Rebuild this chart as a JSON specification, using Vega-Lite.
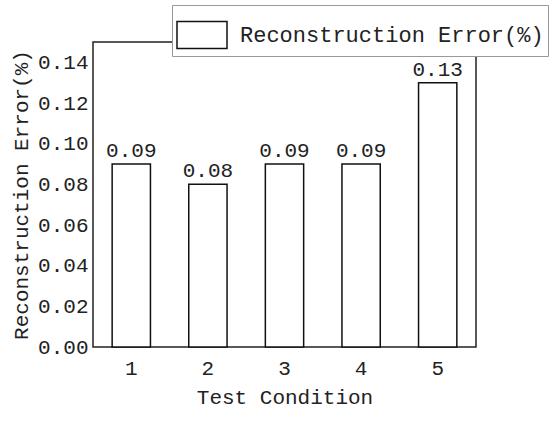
{
  "$schema": "https://vega.github.io/schema/vega-lite/v6.json",
  "autosize": "none",
  "width": 383,
  "height": 305,
  "padding": {"left": 93, "top": 42, "right": 74, "bottom": 74},
  "background": "white",
  "config": {
    "font": "Liberation Mono",
    "view": {"stroke": "#222", "strokeWidth": 1.5},
    "axis": {"grid": false, "ticks": false, "domain": false, "labelFont": "Liberation Mono", "titleFont": "Liberation Mono", "labelFontSize": 21, "titleFontSize": 21, "labelColor": "#222", "titleColor": "#222", "titleFontWeight": "normal"}
  },
  "data": {"values": [
    {"condition": "1", "error": 0.09, "series": "Reconstruction Error(%)"},
    {"condition": "2", "error": 0.08, "series": "Reconstruction Error(%)"},
    {"condition": "3", "error": 0.09, "series": "Reconstruction Error(%)"},
    {"condition": "4", "error": 0.09, "series": "Reconstruction Error(%)"},
    {"condition": "5", "error": 0.13, "series": "Reconstruction Error(%)"}
  ]},
  "encoding": {
    "x": {"field": "condition", "type": "ordinal", "scale": {"paddingInner": 0.5, "paddingOuter": 0.25}, "axis": {"title": "Test Condition", "labelAngle": 0, "labelPadding": 10, "titlePadding": 8}},
    "y": {"field": "error", "type": "quantitative", "scale": {"domain": [0, 0.15], "nice": false}, "axis": {"title": "Reconstruction Error(%)", "values": [0, 0.02, 0.04, 0.06, 0.08, 0.1, 0.12, 0.14], "format": ".2f", "labelPadding": 5, "titlePadding": 6}}
  },
  "layer": [
    {
      "mark": {"type": "bar", "stroke": "#111", "strokeWidth": 1.5},
      "encoding": {
        "fill": {"field": "series", "type": "nominal", "scale": {"range": ["white"]}, "legend": {
          "title": null, "orient": "none", "legendX": 79, "legendY": -37,
          "symbolType": "M-1,-0.54H1V0.54H-1Z", "symbolSize": 2500, "symbolStrokeColor": "#111", "symbolStrokeWidth": 1.5, "symbolFillColor": "white",
          "labelFont": "Liberation Mono", "labelFontSize": 22, "labelColor": "#222", "labelOffset": 12, "labelLimit": 400,
          "strokeColor": "#999", "padding": 4, "fillColor": "white"
        }}
      }
    },
    {
      "mark": {"type": "text", "baseline": "bottom", "dy": -3, "font": "Liberation Mono", "fontSize": 21, "color": "#222"},
      "encoding": {"text": {"field": "error", "type": "quantitative", "format": ".2f"}}
    }
  ]
}
